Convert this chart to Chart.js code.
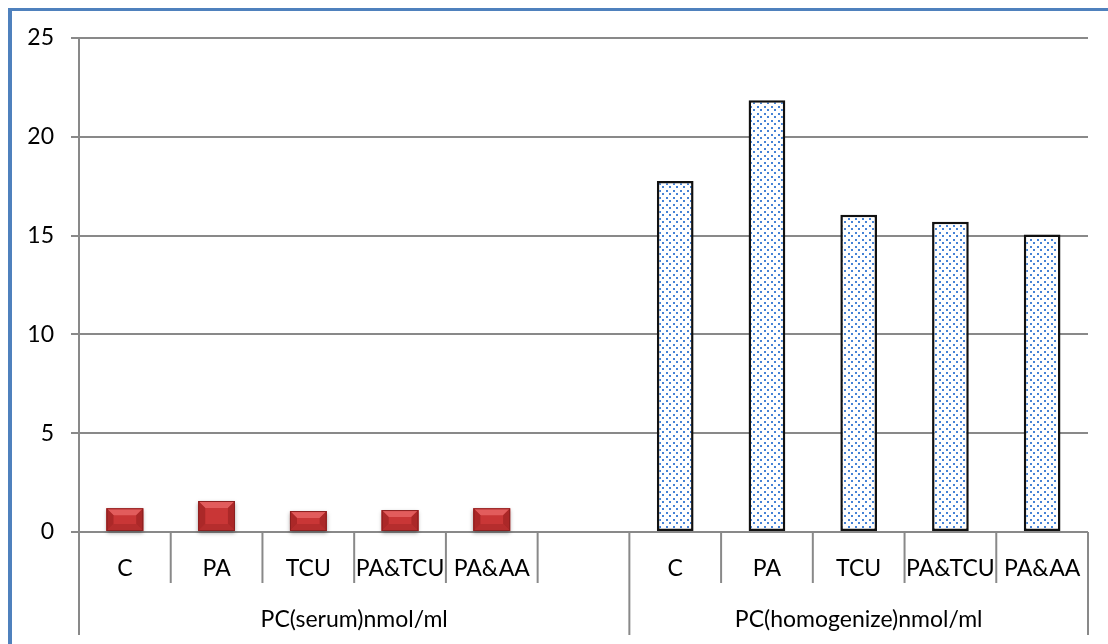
<!DOCTYPE html>
<html>
<head>
<meta charset="utf-8">
<script src="https://cdn.jsdelivr.net/npm/chart.js@4.4.1/dist/chart.umd.min.js"></script>
<style>
  html, body { margin: 0; padding: 0; background: #fff; }
  #box { position: absolute; left: 0; top: 0; width: 1108px; height: 644px; }
</style>
</head>
<body>
<div id="box"><canvas id="chart" width="1108" height="644"></canvas></div>
<script>
// ---------------- DATA ----------------
const categories = ["C", "PA", "TCU", "PA&TCU", "PA&AA", "", "C", "PA", "TCU", "PA&TCU", "PA&AA"];
const groupNames = ["PC(serum)nmol/ml", "PC(homogenize)nmol/ml"];
const groupSpans = [[0, 6], [6, 11]]; // category index ranges [start, end)
const serumValues = [1.2, 1.57, 1.06, 1.11, 1.2, null, null, null, null, null, null];
const homogValues = [null, null, null, null, null, null, 17.76, 21.85, 16.05, 15.7, 15.05];
const yTicks = [0, 5, 10, 15, 20, 25];

const FONT = "Lato";
const FSIZE = 23;
const GRID = "#898989";

// dotted fill for the homogenate bars (staggered dots)
function dotPattern() {
  let c = document.createElement("canvas");
  c.width = 7; c.height = 7;
  let g = c.getContext("2d");
  g.fillStyle = "#ffffff";
  g.fillRect(0, 0, 7, 7);
  g.fillStyle = "#4683d6";
  g.fillRect(1, 1, 2, 2);
  g.fillRect(4, 4, 2, 2);
  return g.createPattern(c, "repeat");
}

// ---------------- PLUGINS ----------------
const frame = {
  id: "frame",
  beforeDraw(chart) {
    let ctx = chart.ctx;
    ctx.save();
    ctx.fillStyle = "#4f81bd";
    ctx.fillRect(8, 8, 4, 636);
    ctx.fillRect(8, 8, 1100, 3);
    ctx.restore();
  }
};

// bevel look on the red serum bars
const bevel = {
  id: "bevel",
  afterDatasetsDraw(chart) {
    let ctx = chart.ctx;
    let meta = chart.getDatasetMeta(0);
    meta.data.forEach((bar, i) => {
      if (serumValues[i] == null) return;
      let p = bar.getProps(["x", "y", "base", "width"], true);
      let x0 = p.x - p.width / 2, x1 = p.x + p.width / 2;
      let t = p.y, b = p.base;
      let h = b - t;
      let bx = 7, by = Math.min(7, h * 0.35);
      function poly(pts, col) {
        ctx.beginPath();
        ctx.moveTo(pts[0][0], pts[0][1]);
        for (let k = 1; k < pts.length; k++) ctx.lineTo(pts[k][0], pts[k][1]);
        ctx.closePath();
        ctx.fillStyle = col;
        ctx.fill();
      }
      ctx.save();
      ctx.shadowColor = "rgba(0,0,0,0.35)";
      ctx.shadowBlur = 4;
      ctx.shadowOffsetY = 2;
      poly([[x0, t], [x1, t], [x1, b], [x0, b]], "#c93636");
      ctx.shadowColor = "transparent";
      poly([[x0, t], [x1, t], [x1 - bx, t + by], [x0 + bx, t + by]], "#e25c5c");
      poly([[x0, b], [x1, b], [x1 - bx, b - by], [x0 + bx, b - by]], "#b52d2d");
      poly([[x0, t], [x0 + bx, t + by], [x0 + bx, b - by], [x0, b]], "#ab2828");
      poly([[x1, t], [x1 - bx, t + by], [x1 - bx, b - by], [x1, b]], "#ab2828");
      ctx.strokeStyle = "#8a1f1f";
      ctx.lineWidth = 1;
      ctx.strokeRect(x0 + 0.5, t + 0.5, p.width - 1, h - 1);
      ctx.restore();
    });
  }
};

// category separators and group labels under the x axis
const xGroups = {
  id: "xGroups",
  afterDraw(chart) {
    let ctx = chart.ctx;
    let xs = chart.scales.x;
    let area = chart.chartArea;
    let step = xs.getPixelForValue(1) - xs.getPixelForValue(0);
    let edge = i => xs.getPixelForValue(0) - step / 2 + i * step;
    let longOnes = [0];
    groupSpans.forEach(s => longOnes.push(s[1]));

    ctx.save();
    ctx.strokeStyle = GRID;
    ctx.lineWidth = 2;
    for (let i = 0; i <= categories.length; i++) {
      let x = edge(i);
      let len = longOnes.includes(i) ? 103 : 51;
      ctx.beginPath();
      ctx.moveTo(x, area.bottom);
      ctx.lineTo(x, area.bottom + len);
      ctx.stroke();
    }
    ctx.fillStyle = "#000";
    ctx.font = FSIZE + "px " + FONT;
    ctx.textAlign = "center";
    ctx.textBaseline = "middle";
    groupNames.forEach((name, g) => {
      let mid = (edge(groupSpans[g][0]) + edge(groupSpans[g][1])) / 2;
      ctx.fillText(name, mid, area.bottom + 88);
    });
    ctx.restore();
  }
};

// ---------------- CHART ----------------
const ctx = document.getElementById("chart").getContext("2d");

const chart = new Chart(ctx, {
  type: "bar",
  data: {
    labels: categories,
    datasets: [
      {
        label: groupNames[0],
        data: serumValues,
        backgroundColor: "#c93636",
        borderWidth: 0
      },
      {
        label: groupNames[1],
        data: homogValues,
        backgroundColor: dotPattern(),
        borderColor: "#111111",
        borderWidth: 2.5,
        borderSkipped: false
      }
    ]
  },
  options: {
    responsive: false,
    animation: false,
    devicePixelRatio: 1,
    grouped: false,
    barPercentage: 0.4,
    categoryPercentage: 1.0,
    layout: { padding: { top: 38, right: 20, left: 0, bottom: 0 } },
    plugins: {
      legend: { display: false },
      tooltip: { enabled: false }
    },
    scales: {
      x: {
        grid: { display: false },
        border: { display: false },
        ticks: {
          color: "#000",
          font: { family: FONT, size: FSIZE },
          padding: 15,
          maxRotation: 0,
          autoSkip: false
        },
        afterFit(scale) { scale.height = 112; }
      },
      y: {
        min: 0,
        max: 25,
        afterBuildTicks(scale) { scale.ticks = yTicks.map(v => ({ value: v })); },
        grid: { color: GRID, lineWidth: 2, tickLength: 8, drawTicks: true },
        border: { color: GRID, width: 2 },
        ticks: {
          color: "#000",
          font: { family: FONT, size: FSIZE },
          padding: 17
        },
        afterFit(scale) { scale.width = 79; }
      }
    }
  },
  plugins: [frame, bevel, xGroups]
});
</script>
</body>
</html>
